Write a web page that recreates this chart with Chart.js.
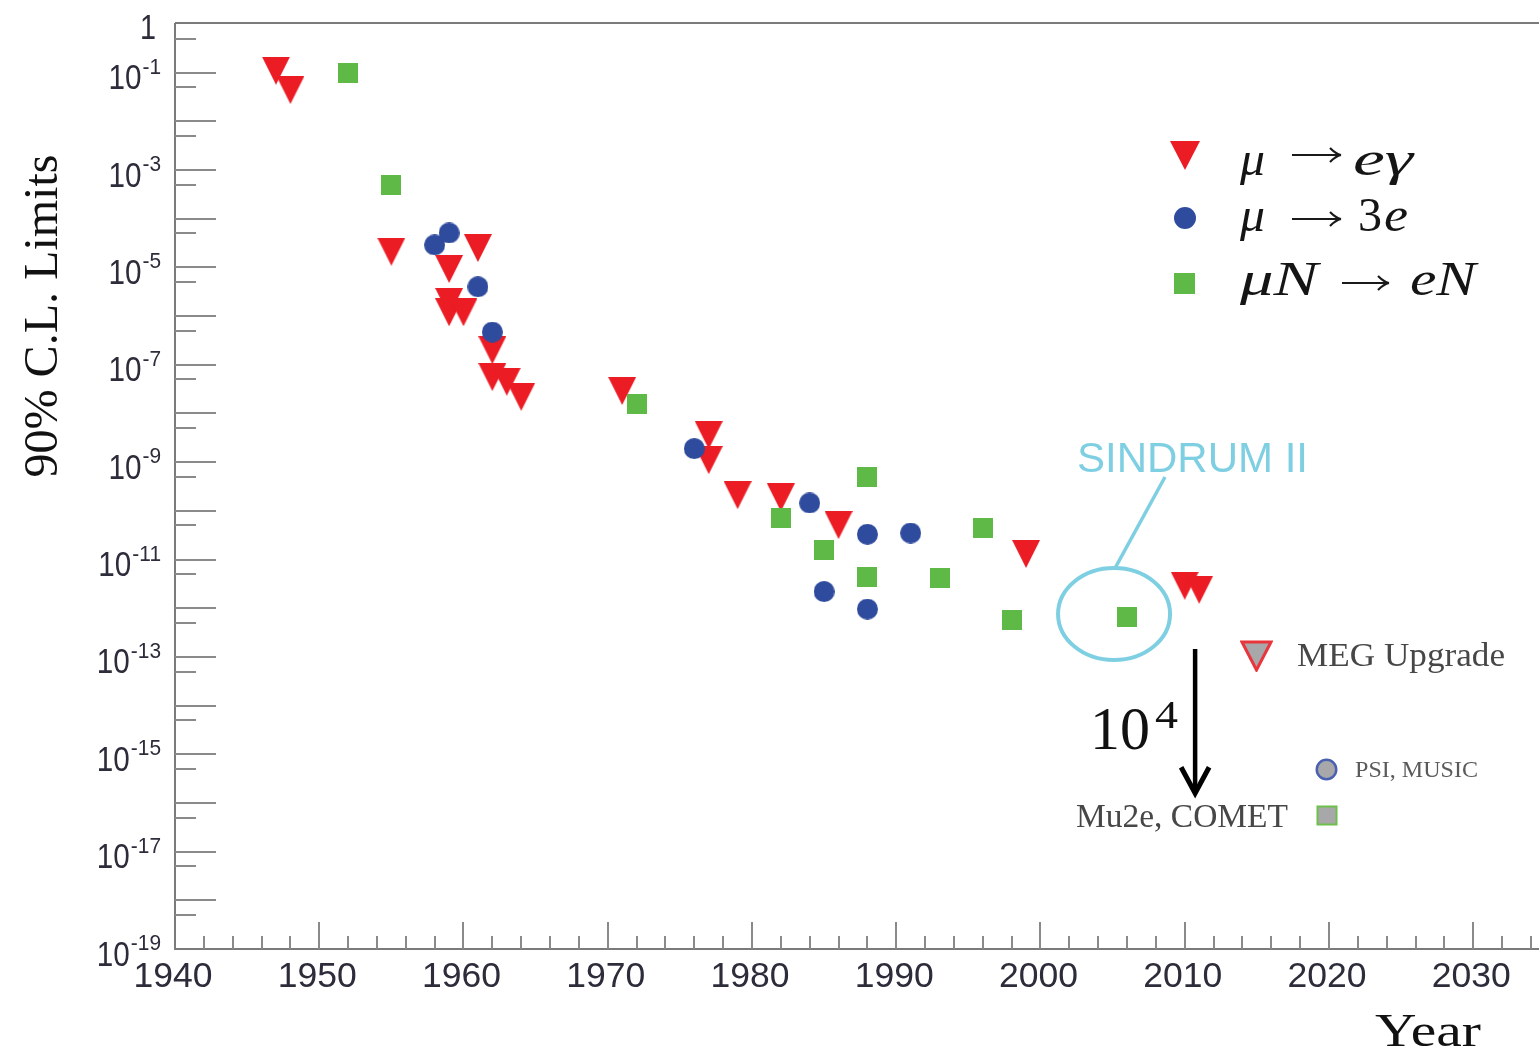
<!DOCTYPE html>
<html>
<head>
<meta charset="utf-8">
<script src="https://cdn.jsdelivr.net/npm/chart.js@4.4.1/dist/chart.umd.min.js"></script>
<style>
  html, body { margin: 0; padding: 0; background: #fff; overflow: hidden; }
  #wrap { width: 1539px; height: 1057px; }
</style>
</head>
<body>
<div id="wrap"><canvas id="c" width="1539" height="1057"></canvas></div>
<script>
// mu -> e gamma (red triangles)
const megYears  = [1947, 1948, 1955, 1959, 1959, 1959, 1960, 1961, 1962, 1962, 1963, 1964, 1971, 1977, 1977, 1979, 1982, 1986, 1999, 2010, 2011];
const megLimits = [0.11, 0.044, 2.1e-5, 9.3e-6, 1.95e-6, 1.2e-6, 1.2e-6, 2.5e-5, 2.0e-7, 5.6e-8, 4.5e-8, 2.2e-8, 2.9e-8, 3.6e-9, 1.1e-9, 2.1e-10, 1.9e-10, 5.1e-11, 1.3e-11, 2.9e-12, 2.4e-12];

// mu -> 3e (blue circles)
const threeEYears  = [1958, 1959, 1961, 1962, 1976, 1984, 1985, 1988, 1988, 1991];
const threeELimits = [2.9e-5, 5.1e-5, 4.0e-6, 4.7e-7, 1.9e-9, 1.45e-10, 2.2e-12, 3.3e-11, 9.6e-13, 3.5e-11];

// mu N -> e N (green squares)
const convYears  = [1952, 1955, 1972, 1982, 1985, 1988, 1988, 1993, 1996, 1998, 2006];
const convLimits = [0.098, 4.9e-4, 1.6e-8, 7.1e-11, 1.6e-11, 4.9e-10, 4.4e-12, 4.2e-12, 4.4e-11, 5.8e-13, 6.6e-13];

// axes
const xMin = 1940, xMax = 2034.56;
const yMin = 1e-19, yMax = 1;
const xTickLabels = [1940, 1950, 1960, 1970, 1980, 1990, 2000, 2010, 2020, 2030];
const yLabelPowers = [0, -1, -3, -5, -7, -9, -11, -13, -15, -17, -19];

// annotation anchors (data space)
const sindrumCenter = { x: 2005.1, y: Math.pow(10, -12.12) };
const arrowTop = { x: 2010.72, y: Math.pow(10, -12.84) };
const arrowBottom = { x: 2010.72, y: Math.pow(10, -15.8) };

const RED = '#ec1c24', BLUE = '#2f4b9d', GREEN = '#5fb946', CYAN = '#7fcfe3';

function marker(kind, w, h, fill, stroke, lw) {
  const c = document.createElement('canvas');
  c.width = w; c.height = h;
  const g = c.getContext('2d');
  g.fillStyle = fill;
  g.beginPath();
  const m = lw ? lw / 2 + 0.5 : 0;
  if (kind === 'tri') {
    g.moveTo(m, m); g.lineTo(w - m, m); g.lineTo(w / 2, h - m); g.closePath();
  } else if (kind === 'circ') {
    g.arc(w / 2, h / 2, w / 2 - m, 0, Math.PI * 2);
  } else {
    g.rect(m, m, w - 2 * m, h - 2 * m);
  }
  g.fill();
  if (lw) { g.strokeStyle = stroke; g.lineWidth = lw; g.lineJoin = 'miter'; g.stroke(); }
  return c;
}

const triImg = marker('tri', 28, 28, RED);
const circImg = marker('circ', 21, 21, BLUE);
const sqImg = marker('sq', 20, 20, GREEN);

function pts(xs, ys) { return xs.map((x, i) => ({ x: x, y: ys[i] })); }

function fitText(ctx, text, x, y, width, align) {
  const w = ctx.measureText(text).width;
  ctx.save();
  ctx.translate(x, y);
  ctx.scale(width / w, 1);
  ctx.textAlign = align || 'left';
  ctx.fillText(text, 0, 0);
  ctx.restore();
}

function longArrow(ctx, x1, x2, y) {
  ctx.save();
  ctx.strokeStyle = '#1a1a1a';
  ctx.lineWidth = 2.2;
  ctx.beginPath();
  ctx.moveTo(x1, y); ctx.lineTo(x2, y);
  ctx.moveTo(x2 - 11, y - 7); ctx.quadraticCurveTo(x2 - 5, y - 1, x2, y);
  ctx.moveTo(x2 - 11, y + 7); ctx.quadraticCurveTo(x2 - 5, y + 1, x2, y);
  ctx.stroke();
  ctx.restore();
}

const decoration = {
  id: 'decoration',
  beforeDatasetsDraw(chart) {
    const { ctx, chartArea: a, scales: { x, y } } = chart;
    ctx.save();
    ctx.strokeStyle = '#7b7b7b';
    ctx.lineWidth = 2;
    ctx.beginPath();
    ctx.moveTo(a.left, a.top - 1); ctx.lineTo(a.right, a.top - 1);
    ctx.moveTo(a.left, a.top - 1); ctx.lineTo(a.left, a.bottom); ctx.lineTo(a.right, a.bottom);
    ctx.stroke();

    ctx.strokeStyle = '#8a8a8a';
    ctx.beginPath();
    for (let p = 0; p >= -19; p--) {
      const py = Math.round(y.getPixelForValue(Math.pow(10, p)));
      if (p < 0 && p > -19) { ctx.moveTo(a.left, py); ctx.lineTo(a.left + 41, py); }
      if (p > -19) {
        const ps = Math.round(y.getPixelForValue(5 * Math.pow(10, p - 1)));
        ctx.moveTo(a.left, ps); ctx.lineTo(a.left + 21, ps);
      }
    }
    for (let yr = 1942; yr <= 2034; yr += 2) {
      const px = Math.round(x.getPixelForValue(yr));
      const len = yr % 10 === 0 ? 27 : 13;
      ctx.moveTo(px, a.bottom); ctx.lineTo(px, a.bottom - len);
    }
    ctx.stroke();
    ctx.restore();
  },
  afterDraw(chart) {
    const { ctx, chartArea: a, scales: { x, y } } = chart;
    ctx.save();
    ctx.textBaseline = 'alphabetic';

    // x tick labels
    ctx.fillStyle = '#2c2c3a';
    ctx.font = '35px "Liberation Sans"';
    xTickLabels.forEach(v => {
      fitText(ctx, String(v), x.getPixelForValue(v) - 2, a.bottom + 38, 79, 'center');
    });

    // y tick labels
    yLabelPowers.forEach(p => {
      const py = y.getPixelForValue(Math.pow(10, p));
      if (p === 0) {
        ctx.font = '35px "Liberation Sans"';
        fitText(ctx, '1', 156, py + 15, 16, 'right');
        return;
      }
      const sup = String(p);
      ctx.font = '22px "Liberation Sans"';
      const supW = ctx.measureText(sup).width * 0.95;
      const right = 161;
      fitText(ctx, sup, right - supW, py + 1, supW, 'left');
      ctx.font = '35px "Liberation Sans"';
      fitText(ctx, '10', right - supW - 1, py + 16.5, 33, 'right');
    });

    // axis titles
    ctx.fillStyle = '#111';
    ctx.font = '48px "Liberation Serif"';
    ctx.save();
    ctx.translate(57, 316);
    ctx.rotate(-Math.PI / 2);
    fitText(ctx, '90% C.L. Limits', 0, 0, 323, 'center');
    ctx.restore();
    ctx.font = '46px "Liberation Serif"';
    fitText(ctx, 'Year', 1428, 1046, 106, 'center');

    // legend
    ctx.drawImage(marker('tri', 30, 29, RED), 1170, 141);
    ctx.drawImage(marker('circ', 22, 22, BLUE), 1174, 207);
    ctx.drawImage(marker('sq', 21, 21, GREEN), 1174, 273);
    ctx.fillStyle = '#151515';
    ctx.font = 'italic 48px "Liberation Serif"';
    fitText(ctx, 'μ', 1240, 175, 25);
    longArrow(ctx, 1292, 1341, 155);
    fitText(ctx, 'eγ', 1353, 175, 60);
    fitText(ctx, 'μ', 1240, 231, 25);
    longArrow(ctx, 1292, 1341, 219);
    ctx.font = '48px "Liberation Serif"';
    fitText(ctx, '3', 1358, 231, 24);
    ctx.font = 'italic 48px "Liberation Serif"';
    fitText(ctx, 'e', 1384, 231, 24);
    fitText(ctx, 'μN', 1240, 295, 78);
    longArrow(ctx, 1342, 1389, 283);
    fitText(ctx, 'eN', 1410, 295, 66);

    // future experiments
    ctx.drawImage(marker('tri', 33, 32, '#a8a8ab', '#e8363c', 3), 1240, 640);
    ctx.drawImage(marker('circ', 23, 23, '#a8a8ab', '#4961b0', 2.5), 1315, 758);
    ctx.drawImage(marker('sq', 22, 21, '#a8a8ab', '#6cc04b', 2), 1316, 805);
    ctx.fillStyle = '#474747';
    ctx.font = '34px "Liberation Serif"';
    fitText(ctx, 'MEG Upgrade', 1297, 666, 208);
    fitText(ctx, 'Mu2e, COMET', 1076, 827, 212);
    ctx.fillStyle = '#5a5a5a';
    ctx.font = '24px "Liberation Serif"';
    fitText(ctx, 'PSI, MUSIC', 1355, 777, 123);

    // 10^4 arrow
    const ax = x.getPixelForValue(arrowTop.x);
    const ay1 = y.getPixelForValue(arrowTop.y);
    const ay2 = y.getPixelForValue(arrowBottom.y);
    ctx.strokeStyle = '#000';
    ctx.lineWidth = 4.5;
    ctx.beginPath();
    ctx.moveTo(ax, ay1); ctx.lineTo(ax, ay2 - 3);
    ctx.stroke();
    ctx.lineWidth = 5;
    ctx.lineJoin = 'miter';
    ctx.beginPath();
    ctx.moveTo(ax - 14, ay2 - 26); ctx.lineTo(ax, ay2); ctx.lineTo(ax + 14, ay2 - 26);
    ctx.stroke();
    ctx.fillStyle = '#111';
    ctx.font = '62px "Liberation Serif"';
    fitText(ctx, '10', 1090, 749, 60);
    ctx.font = '40px "Liberation Serif"';
    fitText(ctx, '4', 1155, 728, 23);

    // SINDRUM II
    const cx = x.getPixelForValue(sindrumCenter.x);
    const cy = y.getPixelForValue(sindrumCenter.y);
    ctx.strokeStyle = CYAN;
    ctx.lineWidth = 4;
    ctx.beginPath();
    ctx.ellipse(cx, cy, 56, 46, 0, 0, Math.PI * 2);
    ctx.stroke();
    ctx.lineWidth = 3.5;
    ctx.beginPath();
    ctx.moveTo(1165, 477); ctx.lineTo(cx + 1, cy - 46);
    ctx.stroke();
    ctx.fillStyle = CYAN;
    ctx.font = '42px "Liberation Sans"';
    fitText(ctx, 'SINDRUM II', 1077, 472, 231);

    ctx.restore();
  }
};

new Chart(document.getElementById('c'), {
  type: 'scatter',
  data: {
    datasets: [
      { label: 'μN → eN', data: pts(convYears, convLimits), pointStyle: sqImg, pointRadius: 10, order: 1 },
      { label: 'μ → 3e', data: pts(threeEYears, threeELimits), pointStyle: circImg, pointRadius: 10, order: 2 },
      { label: 'μ → eγ', data: pts(megYears, megLimits), pointStyle: triImg, pointRadius: 10, order: 3 }
    ]
  },
  options: {
    responsive: false,
    animation: false,
    events: [],
    layout: { autoPadding: false, padding: { left: 175, top: 24, right: 0, bottom: 108 } },
    plugins: { legend: { display: false }, tooltip: { enabled: false } },
    scales: {
      x: { type: 'linear', min: xMin, max: xMax, display: false },
      y: { type: 'logarithmic', min: yMin, max: yMax, display: false }
    }
  },
  plugins: [decoration]
});
</script>
</body>
</html>
